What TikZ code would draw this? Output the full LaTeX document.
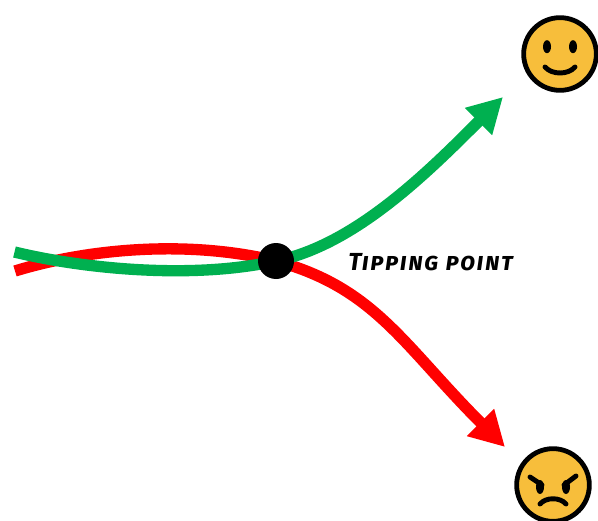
\documentclass[tikz,border=0pt]{standalone}
\usepackage{fontspec}
\usetikzlibrary{arrows.meta}
\newfontfamily\handfont[RawFeature=+smcp,LetterSpace=6]{Fira Sans}
\definecolor{gline}{HTML}{00B050}
\definecolor{rline}{HTML}{FF0000}
\definecolor{faceyellow}{HTML}{F7BE3B}
\tikzset{
  curveline/.style={line width=8.5pt,line cap=butt},
  headed/.style={-{Triangle[length=26pt,width=27pt]}},
  facenode/.style={circle,draw=black,line width=3.6pt,fill=faceyellow,minimum size=54.5pt,inner sep=0pt},
  feature/.style={draw=black,line width=3.7pt,line cap=round},
  dotnode/.style={circle,fill=black,minimum size=27pt,inner sep=0pt},
  labelnode/.style={inner sep=0pt,anchor=west,font=\handfont\bfseries\itshape\fontsize{18.5}{20}\selectfont}
}
\begin{document}
\begin{tikzpicture}[x=0.75pt,y=-0.75pt]
\useasboundingbox (0,0) rectangle (598,520);
\coordinate (gstart) at (14.5,252);
\coordinate (rstart) at (15,271);
\coordinate (gend) at (503,97);
\coordinate (rend) at (505,447);
\coordinate (mid) at (276,261);
\draw[curveline,rline] (rstart) .. controls (90,248) and (190,240) .. (mid);
\draw[curveline,rline,headed] (mid) .. controls (375,288) and (403,345) .. (rend);
\draw[curveline,gline] (gstart) .. controls (80,268) and (190,280) .. (mid);
\draw[curveline,gline,headed] (mid) .. controls (355,245) and (428,172) .. (gend);
\node[dotnode] (tip) at (mid) {};
\node[labelnode] (lab) at (348,262) {Tipping point};
\node[facenode] (happy) at (560,54) {};
\node[facenode] (angry) at (553,485) {};
% smiling face
\fill (547,46.7) ellipse (4 and 6.5);
\fill (573,46.7) ellipse (4 and 6.5);
\draw[feature] (545,67) .. controls (552,75) and (568,75) .. (575,67);
% angry face
\draw[feature] (530,477) -- (542,485);
\draw[feature] (576,476) -- (564,485);
\fill (540,487) ellipse (4 and 7);
\fill (566,487) ellipse (4 and 7);
\draw[feature] (540,504) .. controls (546,497) and (560,497) .. (566,504);
\end{tikzpicture}
\end{document}
